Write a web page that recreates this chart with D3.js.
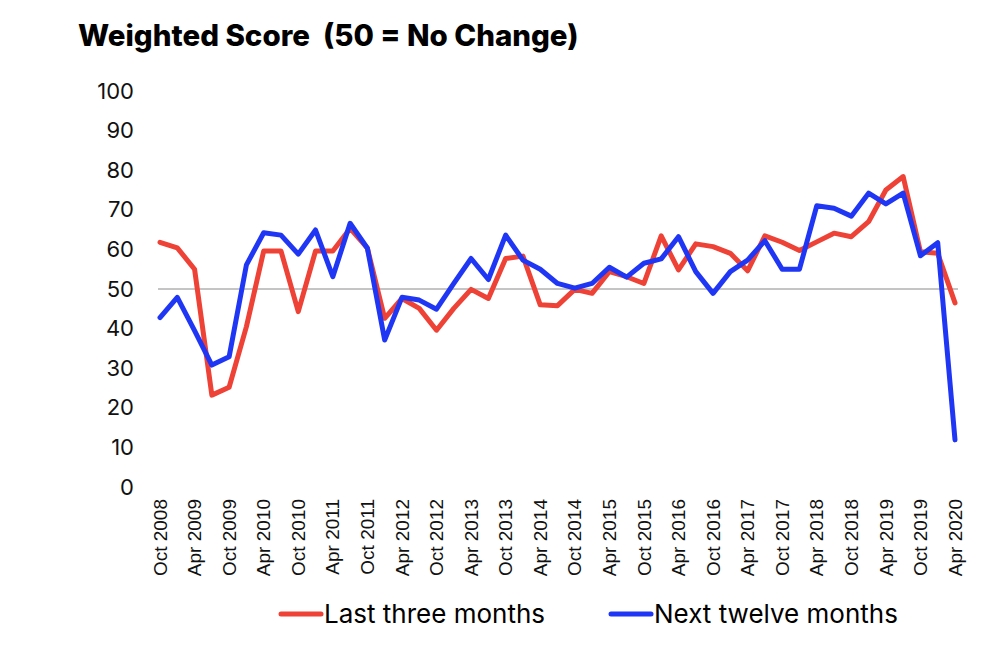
<!DOCTYPE html>
<html>
<head>
<meta charset="utf-8">
<script src="https://cdn.jsdelivr.net/npm/d3@7"></script>
<style>
  body { margin: 0; background: #fff; }
  svg { font-family: Inter, "Noto Sans", sans-serif; }
</style>
</head>
<body>
<div id="chart"></div>
<script>
// quarterly, Oct 2008 .. Apr 2020
const quarters = [];
for (let y = 2008, m = 9; y < 2020 || (y === 2020 && m <= 3); ) {
  quarters.push(new Date(y, m, 1));
  m += 3;
  if (m > 11) { m -= 12; y += 1; }
}

const lastThree = [
  61.8, 60.4, 55.0, 23.2, 25.2, 40.5, 59.6, 59.6, 44.3, 59.6,
  59.6, 65.3, 60.3, 42.6, 47.6, 45.1, 39.6, 45.1, 49.9, 47.6,
  57.7, 58.3, 46.0, 45.8, 49.9, 48.9, 54.4, 53.1, 51.4, 63.4,
  54.8, 61.4, 60.7, 59.0, 54.6, 63.4, 61.8, 59.7, 61.9, 64.1,
  63.2, 67.0, 75.0, 78.4, 59.4, 59.0, 46.5
];
const nextTwelve = [
  42.8, 47.9, 39.5, 30.8, 32.9, 56.1, 64.2, 63.6, 58.8, 64.9,
  53.1, 66.6, 60.3, 37.1, 47.9, 47.2, 44.9, 51.4, 57.7, 52.4,
  63.6, 57.3, 55.0, 51.4, 50.2, 51.4, 55.5, 53.0, 56.5, 57.6,
  63.2, 54.4, 48.9, 54.4, 57.3, 62.2, 55.0, 55.0, 71.0, 70.4,
  68.4, 74.2, 71.5, 74.2, 58.4, 61.7, 11.9
];
const yTicks = [0, 10, 20, 30, 40, 50, 60, 70, 80, 90, 100];
const seriesNames = ["Last three months", "Next twelve months"];
const colors = ["#ee4236", "#1f36f4"];

const width = 1000, height = 650;
const svg = d3.select("#chart").append("svg")
  .attr("width", width)
  .attr("height", height);

const x = d3.scaleLinear()
  .domain([0, quarters.length - 1])
  .range([160, 955]);
const y = d3.scaleLinear()
  .domain([0, 100])
  .range([487, 91]);

// Title
svg.append("text")
  .attr("x", 78).attr("y", 46)
  .attr("font-size", 29.5).attr("font-weight", 800)
  .attr("fill", "#000")
  .attr("xml:space", "preserve")
  .text("Weighted Score  (50 = No Change)");

// Y axis labels
const yAxis = svg.append("g")
  .attr("transform", "translate(134,0)")
  .call(d3.axisLeft(y).tickValues(yTicks).tickSize(0).tickPadding(0));
yAxis.select(".domain").remove();
yAxis.selectAll("text")
  .attr("font-size", 22)
  .attr("font-family", "Inter, sans-serif")
  .attr("fill", "#111");

// X axis labels (every 6 months)
const labelIdx = d3.range(0, quarters.length, 2);
const fmt = d3.timeFormat("%b %Y");
const xAxis = svg.append("g")
  .attr("transform", "translate(0,499)")
  .call(d3.axisBottom(x).tickValues(labelIdx).tickSize(0).tickPadding(0)
    .tickFormat(i => fmt(quarters[i])));
xAxis.select(".domain").remove();
xAxis.selectAll("text")
  .attr("font-size", 19)
  .attr("font-family", "Liberation Sans, Arial, sans-serif")
  .attr("fill", "#111")
  .attr("text-anchor", "end")
  .attr("dy", "0.35em")
  .attr("transform", "rotate(-90)")
  .attr("x", 0).attr("y", 0);
xAxis.selectAll(".tick")
  .attr("transform", d => `translate(${x(d)},0)`);

// 50 reference line
svg.append("line")
  .attr("x1", x(0) - 2).attr("x2", x(quarters.length - 1) + 3)
  .attr("y1", y(50)).attr("y2", y(50))
  .attr("stroke", "#8a8a8a").attr("stroke-width", 1);

// Lines
const line = d3.line()
  .x((d, i) => x(i))
  .y(d => y(d));

[lastThree, nextTwelve].forEach((s, k) => {
  svg.append("path")
    .datum(s)
    .attr("fill", "none")
    .attr("stroke", colors[k])
    .attr("stroke-width", 5)
    .attr("stroke-linejoin", "round")
    .attr("stroke-linecap", "round")
    .attr("d", line);
});

// Legend
const legendX = [281, 611];
seriesNames.forEach((name, k) => {
  const g = svg.append("g").attr("transform", `translate(${legendX[k]},614)`);
  g.append("line")
    .attr("x1", 0).attr("x2", 40)
    .attr("stroke", colors[k]).attr("stroke-width", 5)
    .attr("stroke-linecap", "round");
  g.append("text")
    .attr("x", 43).attr("y", 9)
    .attr("font-size", 26)
    .attr("fill", "#000")
    .text(name);
});
</script>
</body>
</html>
